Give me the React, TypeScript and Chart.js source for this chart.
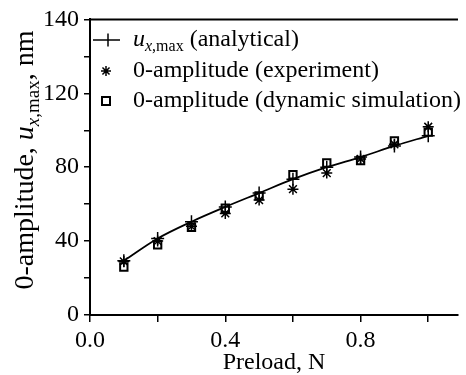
import React, { useEffect, useRef } from 'react';
import { Chart, registerables } from 'chart.js';

Chart.register(...registerables);

const preload = [0.1, 0.2, 0.3, 0.4, 0.5, 0.6, 0.7, 0.8, 0.9, 1.0];
const analytical = [29.3, 41.4, 50.5, 58.5, 66.0, 73.5, 80.0, 85.5, 91.5, 97.0];
const experiment = [29.0, 40.0, 48.0, 55.0, 62.2, 68.1, 76.8, 84.5, 92.4, 101.9];
const simulation = [26.0, 38.0, 47.5, 57.8, 64.5, 75.9, 82.3, 83.6, 94.2, 99.0];

const xTicks = [0, 0.2, 0.4, 0.6, 0.8, 1.0];
const xTickLabels = ['0.0', '', '0.4', '', '0.8', ''];
const yTicks = [0, 20, 40, 60, 80, 100, 120, 140, 160];
const yTickLabels = ['0', '', '40', '', '80', '', '120', '', '140'];

const legendRest = [' (analytical)', '0-amplitude (experiment)', '0-amplitude (dynamic simulation)'];
const xTitle = 'Preload, N';

const FONT = '"Liberation Serif", "Times New Roman", serif';

const decorPlugin = {
  id: 'decor',
  afterDraw(chart: any) {
    const { ctx, chartArea } = chart;
    const { left, right, top } = chartArea;
    ctx.save();
    // top frame line
    ctx.strokeStyle = '#000';
    ctx.lineWidth = 2;
    ctx.beginPath();
    ctx.moveTo(left - 1, top);
    ctx.lineTo(right, top);
    ctx.stroke();

    ctx.fillStyle = '#000';
    // x title
    ctx.font = `24px ${FONT}`;
    ctx.textAlign = 'center';
    ctx.textBaseline = 'alphabetic';
    ctx.fillText(xTitle, (left + right) / 2, 369);

    // y title (rotated), with italic u and subscript x,max
    const parts: [string, string, number][] = [
      ['0-amplitude, ', `28px ${FONT}`, 0],
      ['u', `italic 28px ${FONT}`, 0],
      ['x', `italic 19px ${FONT}`, 6],
      [',max', `19px ${FONT}`, 6],
      [', nm', `28px ${FONT}`, 0],
    ];
    let total = 0;
    for (const [t, f] of parts) { ctx.font = f; total += ctx.measureText(t).width; }
    ctx.save();
    ctx.translate(33, 160);
    ctx.rotate(-Math.PI / 2);
    ctx.textAlign = 'left';
    let cx = -total / 2;
    for (const [t, f, dy] of parts) {
      ctx.font = f;
      ctx.fillText(t, cx, dy);
      cx += ctx.measureText(t).width;
    }
    ctx.restore();

    // legend
    const tx = 133;
    const rows = [46, 77, 107];
    // row 1: line with cross
    ctx.lineWidth = 1.5;
    ctx.beginPath();
    ctx.moveTo(93, rows[0] - 6);
    ctx.lineTo(120, rows[0] - 6);
    ctx.moveTo(108, rows[0] - 12.5);
    ctx.lineTo(108, rows[0] + 0.5);
    ctx.stroke();
    let x = tx;
    ctx.textAlign = 'left';
    ctx.font = `italic 24px ${FONT}`;
    ctx.fillText('u', x, rows[0]);
    x += ctx.measureText('u').width;
    ctx.font = `italic 16px ${FONT}`;
    ctx.fillText('x', x, rows[0] + 5);
    x += ctx.measureText('x').width;
    ctx.font = `16px ${FONT}`;
    ctx.fillText(',max', x, rows[0] + 5);
    x += ctx.measureText(',max').width;
    ctx.font = `24px ${FONT}`;
    ctx.fillText(legendRest[0], x, rows[0]);

    // row 2: star
    const sx = 106, sy = rows[1] - 6, r = 5;
    ctx.lineWidth = 1.5;
    ctx.beginPath();
    ctx.moveTo(sx, sy - r); ctx.lineTo(sx, sy + r);
    ctx.moveTo(sx - r, sy); ctx.lineTo(sx + r, sy);
    const d = r * Math.SQRT1_2;
    ctx.moveTo(sx - d, sy - d); ctx.lineTo(sx + d, sy + d);
    ctx.moveTo(sx - d, sy + d); ctx.lineTo(sx + d, sy - d);
    ctx.stroke();
    ctx.fillText(legendRest[1], tx, rows[1]);

    // row 3: square
    ctx.lineWidth = 2;
    ctx.fillStyle = '#fff';
    ctx.fillRect(102, rows[2] - 10, 8, 8);
    ctx.strokeRect(102, rows[2] - 10, 8, 8);
    ctx.fillStyle = '#000';
    ctx.fillText(legendRest[2], tx, rows[2]);
    ctx.restore();
  },
};

export default function App() {
  const ref = useRef<HTMLCanvasElement | null>(null);
  useEffect(() => {
    document.body.style.margin = '0';
    const canvas = ref.current!;
    const chart = new Chart(canvas, {
      type: 'line',
      data: {
        datasets: [
          {
            label: 'analytical',
            data: preload.map((p, i) => ({ x: p, y: analytical[i] })),
            borderColor: '#000',
            borderWidth: 1.8,
            tension: 0.35,
            pointStyle: 'cross',
            pointRadius: 6.5,
            pointBorderWidth: 1.5,
            pointBorderColor: '#000',
            order: 1,
          },
          {
            label: 'experiment',
            data: preload.map((p, i) => ({ x: p, y: experiment[i] })),
            showLine: false,
            pointStyle: 'star',
            pointRadius: 5.5,
            pointBorderWidth: 1.5,
            pointBorderColor: '#000',
            order: 2,
          },
          {
            label: 'simulation',
            data: preload.map((p, i) => ({ x: p, y: simulation[i] })),
            showLine: false,
            pointStyle: 'rect',
            pointRadius: 5.2,
            pointBorderWidth: 2,
            pointBorderColor: '#000',
            pointBackgroundColor: '#fff',
            order: 3,
          },
        ],
      },
      options: {
        animation: false,
        responsive: false,
        layout: { padding: { top: 15, right: 0, left: 0, bottom: 0 } },
        plugins: { legend: { display: false }, tooltip: { enabled: false } },
        scales: {
          x: {
            type: 'linear',
            min: 0,
            max: 1.088,
            afterBuildTicks: (s: any) => { s.ticks = xTicks.map((v) => ({ value: v })); },
            afterFit: (s: any) => { s.height = 60; },
            grid: { drawOnChartArea: false, drawTicks: true, tickLength: 7, color: '#000', lineWidth: 1.5 },
            border: { display: true, color: '#000', width: 2 },
            ticks: {
              color: '#000',
              font: { family: FONT, size: 24 },
              padding: 4,
              maxRotation: 0,
              autoSkip: false,
              callback: (_v: any, i: number) => xTickLabels[i],
            },
          },
          y: {
            type: 'linear',
            min: 0,
            max: 160,
            afterBuildTicks: (s: any) => { s.ticks = yTicks.map((v) => ({ value: v })); },
            afterFit: (s: any) => { s.width = 90; },
            grid: { drawOnChartArea: false, drawTicks: true, tickLength: 6, color: '#000', lineWidth: 1.5 },
            border: { display: true, color: '#000', width: 2 },
            ticks: {
              color: '#000',
              font: { family: FONT, size: 24 },
              padding: 5,
              autoSkip: false,
              callback: (_v: any, i: number) => yTickLabels[i],
            },
          },
        },
      },
      plugins: [decorPlugin],
    });
    return () => chart.destroy();
  }, []);
  return <canvas ref={ref} width={466} height={375} style={{ display: 'block' }} />;
}
